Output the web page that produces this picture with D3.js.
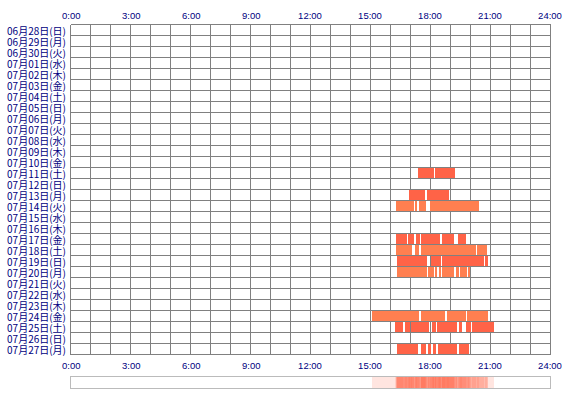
<!DOCTYPE html>
<html>
<head>
<meta charset="utf-8">
<script src="https://cdn.jsdelivr.net/npm/d3@7"></script>
<style>
  body { margin: 0; background: #fff; }
  svg text { white-space: pre; }
</style>
</head>
<body>
<div class="chart"></div>
<script>
var width = 570;
var height = 400;
var navy = '#000080';
var gridColor = '#808080';
var colorEven = '#ff7f50';
var colorOdd = '#ff6347';

/// data
var dayLabels = ['06月28日(日)', '06月29日(月)', '06月30日(火)', '07月01日(水)', '07月02日(木)',
  '07月03日(金)', '07月04日(土)', '07月05日(日)', '07月06日(月)', '07月07日(火)',
  '07月08日(水)', '07月09日(木)', '07月10日(金)', '07月11日(土)', '07月12日(日)',
  '07月13日(月)', '07月14日(火)', '07月15日(水)', '07月16日(木)', '07月17日(金)',
  '07月18日(土)', '07月19日(日)', '07月20日(月)', '07月21日(火)', '07月22日(水)',
  '07月23日(木)', '07月24日(金)', '07月25日(土)', '07月26日(日)', '07月27日(月)'];

var hourTicks = [0, 3, 6, 9, 12, 15, 18, 21, 24];
var tickLabels = [' 0:00', ' 3:00', ' 6:00', ' 9:00', '12:00', '15:00', '18:00', '21:00', '24:00'];

// [day, start, end]
var sessions = [
  ['07月11日(土)', '17:24', '18:12'], ['07月11日(土)', '18:15', '19:15'],
  ['07月13日(月)', '16:57', '17:45'], ['07月13日(月)', '17:51', '18:57'],
  ['07月14日(火)', '16:18', '17:12'], ['07月14日(火)', '17:15', '17:21'],
  ['07月14日(火)', '17:27', '17:48'], ['07月14日(火)', '18:00', '20:27'],
  ['07月17日(金)', '16:18', '16:51'], ['07月17日(金)', '16:54', '17:12'],
  ['07月17日(金)', '17:18', '17:30'], ['07月17日(金)', '17:33', '18:30'],
  ['07月17日(金)', '18:36', '19:12'], ['07月17日(金)', '19:24', '19:48'],
  ['07月18日(土)', '16:18', '17:06'], ['07月18日(土)', '17:15', '17:27'],
  ['07月18日(土)', '17:33', '20:18'], ['07月18日(土)', '20:21', '20:51'],
  ['07月19日(日)', '16:21', '17:51'], ['07月19日(日)', '18:03', '18:33'],
  ['07月19日(日)', '18:36', '20:42'], ['07月19日(日)', '20:45', '20:54'],
  ['07月20日(月)', '16:21', '17:51'], ['07月20日(月)', '17:54', '18:12'],
  ['07月20日(月)', '18:15', '18:21'], ['07月20日(月)', '18:27', '18:33'],
  ['07月20日(月)', '18:36', '19:12'], ['07月20日(月)', '19:18', '19:27'],
  ['07月20日(月)', '19:30', '19:51'], ['07月20日(月)', '19:54', '20:00'],
  ['07月24日(金)', '15:06', '17:27'], ['07月24日(金)', '17:33', '18:45'],
  ['07月24日(金)', '18:51', '19:48'], ['07月24日(金)', '19:51', '20:54'],
  ['07月25日(土)', '16:15', '16:39'], ['07月25日(土)', '16:45', '17:00'],
  ['07月25日(土)', '17:03', '17:57'], ['07月25日(土)', '18:06', '18:18'],
  ['07月25日(土)', '18:21', '19:21'], ['07月25日(土)', '19:27', '19:36'],
  ['07月25日(土)', '19:48', '20:03'], ['07月25日(土)', '20:06', '21:12'],
  ['07月27日(月)', '16:21', '17:24'], ['07月27日(月)', '17:33', '17:48'],
  ['07月27日(月)', '17:54', '18:03'], ['07月27日(月)', '18:09', '18:18'],
  ['07月27日(月)', '18:24', '19:21'], ['07月27日(月)', '19:27', '19:57']
];

function toMin(s) {
  var p = s.split(':');
  return +p[0] * 60 + +p[1];
}

/// Scales
var x = d3.scaleLinear()
  .domain([0, 24 * 60])
  .range([70, 550]);

var y = d3.scaleBand()
  .domain(dayLabels)
  .range([24, 24 + dayLabels.length * 11]);

var svg = d3.select('.chart')
  .append('svg')
  .attr('width', width)
  .attr('height', height);

svg.append('rect')
  .attr('width', width)
  .attr('height', height)
  .attr('fill', '#fff');

/// Grid
var grid = svg.append('g')
  .attr('transform', 'translate(0.5,0.5)')
  .attr('stroke', gridColor)
  .attr('stroke-width', 1)
  .attr('shape-rendering', 'crispEdges');

grid.selectAll('.vline')
  .data(d3.range(0, 25))
  .enter().append('line')
  .attr('class', 'vline')
  .attr('x1', function(d){ return x(d * 60); })
  .attr('x2', function(d){ return x(d * 60); })
  .attr('y1', y.range()[0])
  .attr('y2', y.range()[1]);

grid.selectAll('.hline')
  .data(d3.range(0, dayLabels.length + 1))
  .enter().append('line')
  .attr('class', 'hline')
  .attr('x1', x.range()[0])
  .attr('x2', x.range()[1])
  .attr('y1', function(d){ return y.range()[0] + d * y.bandwidth(); })
  .attr('y2', function(d){ return y.range()[0] + d * y.bandwidth(); });

/// Bars
svg.append('g')
  .attr('shape-rendering', 'crispEdges')
  .selectAll('rect')
  .data(sessions)
  .enter().append('rect')
  .attr('x', function(d){ return x(toMin(d[1])); })
  .attr('width', function(d){ return x(toMin(d[2])) - x(toMin(d[1])); })
  .attr('y', function(d){ return y(d[0]) + 1; })
  .attr('height', y.bandwidth() - 1)
  .attr('fill', function(d){ return dayLabels.indexOf(d[0]) % 2 === 0 ? colorEven : colorOdd; });

/// Day labels
svg.append('g')
  .selectAll('text')
  .data(dayLabels)
  .enter().append('text')
  .attr('x', 66)
  .attr('y', function(d){ return y(d) + y.bandwidth() / 2 + 0.5; })
  .attr('text-anchor', 'end')
  .attr('dominant-baseline', 'central')
  .attr('font-family', '"Noto Sans CJK JP", sans-serif')
  .attr('font-size', '10px')
  .attr('fill', navy)
  .text(function(d){ return d; });

/// Hour labels, top and bottom
[15.5, 365].forEach(function(ty) {
  svg.append('g')
    .selectAll('text')
    .data(hourTicks)
    .enter().append('text')
    .attr('x', function(d){ return x(d * 60); })
    .attr('y', ty)
    .attr('text-anchor', 'middle')
    .attr('dominant-baseline', 'central')
    .attr('font-family', '"Liberation Sans", Arial, sans-serif')
    .attr('font-size', '9.5px')
    .attr('fill', navy)
    .text(function(d, i){ return tickLabels[i]; });
});

/// Summary strip
var strip = svg.append('g');

strip.selectAll('rect')
  .data(sessions)
  .enter().append('rect')
  .attr('x', function(d){ return x(toMin(d[1])); })
  .attr('width', function(d){ return x(toMin(d[2])) - x(toMin(d[1])); })
  .attr('y', 377)
  .attr('height', 11)
  .attr('fill', colorOdd)
  .attr('fill-opacity', 0.17)
  .attr('shape-rendering', 'crispEdges');

strip.append('rect')
  .attr('x', 70.5)
  .attr('y', 376.5)
  .attr('width', 480)
  .attr('height', 12)
  .attr('fill', 'none')
  .attr('stroke', '#bbbbbb')
  .attr('shape-rendering', 'crispEdges');
</script>
</body>
</html>
